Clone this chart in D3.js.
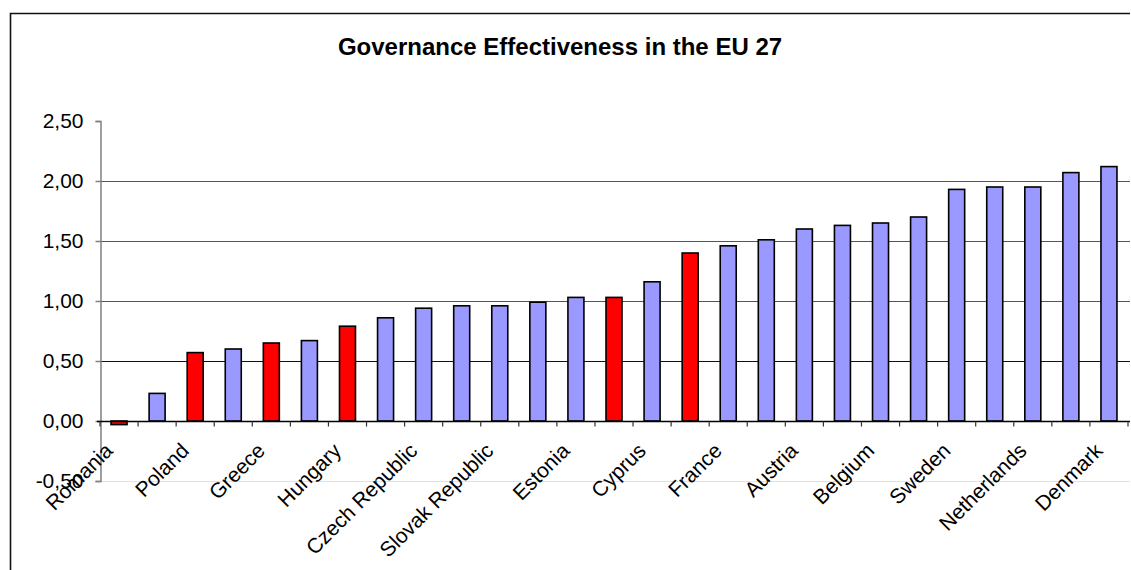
<!DOCTYPE html>
<html>
<head>
<meta charset="utf-8">
<script src="https://cdn.jsdelivr.net/npm/d3@7"></script>
<style>
  html, body { margin: 0; padding: 0; background: #fff; }
  svg { display: block; font-family: Arial, "Liberation Sans", sans-serif; }
</style>
</head>
<body>
<svg id="chart" width="1131" height="570"></svg>
<script>
// ---- data ----
const countries = [
  "Romania", "Bulgaria", "Poland", "Latvia", "Greece", "Lithuania", "Hungary",
  "Italy", "Czech Republic", "Slovenia", "Slovak Republic", "Malta", "Estonia",
  "Portugal", "Cyprus", "Spain", "France", "Ireland", "Austria", "United Kingdom",
  "Belgium", "Germany", "Sweden", "Luxembourg", "Netherlands", "Finland", "Denmark"
];
const values = [
  -0.03, 0.23, 0.57, 0.60, 0.65, 0.67, 0.79,
  0.86, 0.94, 0.96, 0.96, 0.99, 1.03,
  1.03, 1.16, 1.40, 1.46, 1.51, 1.60, 1.63,
  1.65, 1.70, 1.93, 1.95, 1.95, 2.07, 2.12
];
const highlighted = [
  true, false, true, false, true, false, true,
  false, false, false, false, false, false,
  true, false, true, false, false, false, false,
  false, false, false, false, false, false, false
];
const shownLabels = [
  "Romania", "Poland", "Greece", "Hungary", "Czech Republic", "Slovak Republic",
  "Estonia", "Cyprus", "France", "Austria", "Belgium", "Sweden", "Netherlands", "Denmark"
];
const yTicks = [-0.5, 0, 0.5, 1.0, 1.5, 2.0, 2.5];
const titleText = "Governance Effectiveness in the EU 27";

// ---- layout ----
const svg = d3.select("#chart");
const pLeft = 100, pRight = 1128, pTop = 121, pBottom = 481;

const x = d3.scaleBand().domain(countries).range([pLeft, pRight]).paddingInner(0).paddingOuter(0);
const y = d3.scaleLinear().domain([-0.5, 2.5]).range([pBottom, pTop]);
const fmt = v => d3.format(".2f")(v).replace(".", ",").replace("\u2212", "-");

// outer frame
svg.append("path")
  .attr("d", `M10.5,570 L10.5,13.5 L1130,13.5`)
  .attr("fill", "none").attr("stroke", "#111").attr("stroke-width", 1.6);

// title
svg.append("text")
  .attr("x", 560).attr("y", 55)
  .attr("text-anchor", "middle")
  .attr("font-size", 24).attr("font-weight", "bold")
  .text(titleText);

// gridlines
svg.append("g").selectAll("line")
  .data(yTicks.filter(t => t !== 0 && t !== 2.5))
  .join("line")
  .attr("x1", pLeft).attr("x2", pRight + 2)
  .attr("y1", d => Math.round(y(d)) + 0.5).attr("y2", d => Math.round(y(d)) + 0.5)
  .attr("stroke", d => d < 0 ? "#e2e2e2" : (d === 0.5 ? "#111" : "#555"))
  .attr("stroke-width", 1);

// y axis
const yAxis = d3.axisLeft(y).tickValues(yTicks).tickFormat(fmt).tickSize(5).tickPadding(12);
const gy = svg.append("g").attr("transform", `translate(${pLeft + 0.5},0)`).call(yAxis);
gy.select(".domain").attr("stroke", "#808080").attr("stroke-width", 1.5);
gy.selectAll(".tick line").attr("stroke", "#808080").attr("stroke-width", 1.5);
gy.selectAll(".tick text")
  .attr("font-size", 21).attr("font-family", "Arial, 'Liberation Sans', sans-serif")
  .attr("fill", "#000");

// bars
const bw = 16;
svg.append("g").selectAll("rect")
  .data(countries)
  .join("rect")
  .attr("x", (d, i) => x(d) + x.bandwidth() / 2 - bw / 2)
  .attr("width", bw)
  .attr("y", (d, i) => y(Math.max(0, values[i])))
  .attr("height", (d, i) => Math.abs(y(values[i]) - y(0)))
  .attr("fill", (d, i) => highlighted[i] ? "#ff0000" : "#9999ff")
  .attr("stroke", "#000").attr("stroke-width", 1.6);

// x axis line at zero with boundary ticks
const y0 = Math.round(y(0)) + 0.5;
const gx = svg.append("g");
gx.append("line")
  .attr("x1", pLeft - 3).attr("x2", pRight + 2)
  .attr("y1", y0).attr("y2", y0)
  .attr("stroke", "#000").attr("stroke-width", 1.5);
const boundaries = countries.map(c => x(c)).concat([pRight]);
gx.selectAll("line.tk")
  .data(boundaries)
  .join("line").attr("class", "tk")
  .attr("x1", d => d).attr("x2", d => d)
  .attr("y1", y0).attr("y2", y0 + 5)
  .attr("stroke", "#333").attr("stroke-width", 1.2);

// category labels (every other)
svg.append("g").selectAll("text")
  .data(shownLabels)
  .join("text")
  .attr("transform", d => `translate(${x(d) + x.bandwidth() / 2 - 5},452) rotate(-45)`)
  .attr("text-anchor", "end")
  .attr("font-size", 21)
  .text(d => d);
</script>
</body>
</html>
